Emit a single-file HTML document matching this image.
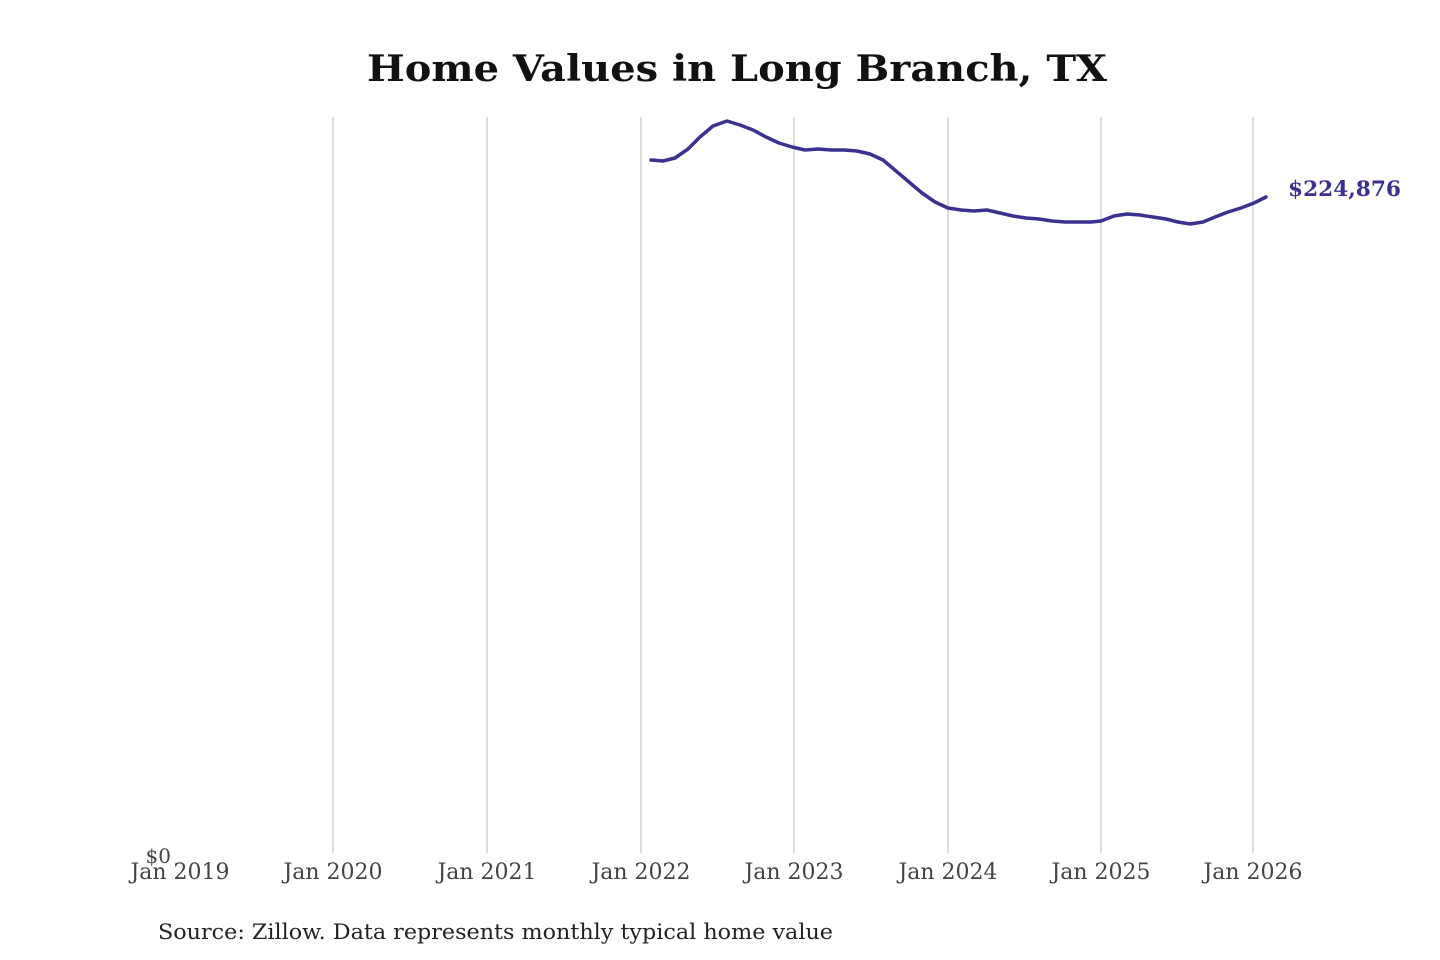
<!DOCTYPE html>
<html><head><style>body{margin:0;background:#fff;}svg{display:block}</style></head>
<body>
<svg width="1440" height="960" xmlns="http://www.w3.org/2000/svg" font-family="DejaVu Serif, Liberation Serif, serif">
<rect width="1440" height="960" fill="#fff"/>
<text x="737" y="81" text-anchor="middle" font-size="36" font-weight="bold" fill="#111" textLength="740" lengthAdjust="spacingAndGlyphs">Home Values in Long Branch, TX</text>
<g stroke="#c8c8c8" stroke-width="1.2">
<line x1="333" y1="117" x2="333" y2="853"/>
<line x1="487" y1="117" x2="487" y2="853"/>
<line x1="641" y1="117" x2="641" y2="853"/>
<line x1="794" y1="117" x2="794" y2="853"/>
<line x1="948" y1="117" x2="948" y2="853"/>
<line x1="1101" y1="117" x2="1101" y2="853"/>
<line x1="1253" y1="117" x2="1253" y2="853"/>
</g>
<polyline fill="none" stroke="#3a3190" stroke-width="3.5" stroke-linejoin="round" stroke-linecap="round" points="651,160 663,161 675,158 688,149 700,137 713,126 727,121 740,125 753,130 766,137 779,143 792,147 805,150 818,149 831,150 844,150 857,151 870,154 883,160 896,171 909,182 922,193 935,202 948,208 961,210 974,211 987,210 1000,213 1013,216 1026,218 1039,219 1052,221 1065,222 1078,222 1091,222 1101,221 1114,216 1127,214 1140,215 1153,217 1166,219 1178,222 1190,224 1203,222 1215,217 1228,212 1241,208 1254,203 1266,197"/>
<text x="1288" y="196" font-size="21" font-weight="bold" fill="#3a3190" textLength="113" lengthAdjust="spacingAndGlyphs">$224,876</text>
<g font-size="22" fill="#444" text-anchor="middle">
<text x="180" y="879">Jan 2019</text>
<text x="333" y="879">Jan 2020</text>
<text x="487" y="879">Jan 2021</text>
<text x="641" y="879">Jan 2022</text>
<text x="794" y="879">Jan 2023</text>
<text x="948" y="879">Jan 2024</text>
<text x="1101" y="879">Jan 2025</text>
<text x="1253" y="879">Jan 2026</text>
</g>
<text x="171" y="863" font-size="20" fill="#444" text-anchor="end">$0</text>
<text x="158" y="939" font-size="21" fill="#222" textLength="675" lengthAdjust="spacingAndGlyphs">Source: Zillow. Data represents monthly typical home value</text>
</svg>
</body></html>
